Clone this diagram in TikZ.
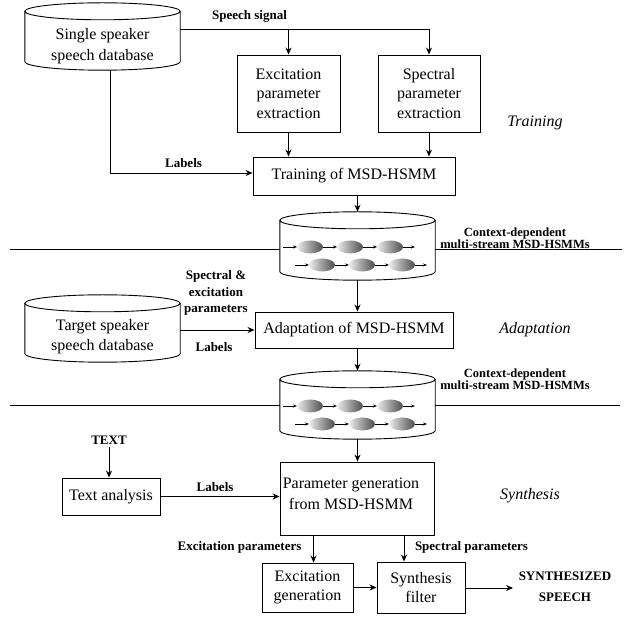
\documentclass[tikz,border=0pt]{standalone}
\usepackage{fontspec}
\setmainfont{Liberation Serif}
\usetikzlibrary{arrows.meta,calc}
\newcommand\cylout[2]{%
 \draw[ln] let \p1=(#1.north west), \p2=(#1.south east), \n1={(\x2-\x1)/2} in
   ($(#1.north)+(0,-#2)$) ellipse[x radius=\n1, y radius=#2]
   (\x1,\y1-#2) -- (\x1,\y2+#2) arc[start angle=180, end angle=360, x radius=\n1, y radius=#2] -- (\x2,\y1-#2);}
\newcommand\hmmstates[1]{%
 \foreach \cx in {-47.5,-7.5,32.5}{\shade[hmmstate] ($(#1.center)+(\cx,-1)$) ellipse[x radius=13, y radius=6.5];}
 \foreach \cx in {-35.5,4.5,44.5}{\shade[hmmstate] ($(#1.center)+(\cx,-19)$) ellipse[x radius=13, y radius=6.5];}
 \foreach \a/\b in {-74.5/-60.5,-34.5/-20.5,5.5/19.5,45.5/57.5}{\draw[sarr] ($(#1.center)+(\a,-1)$) -- ($(#1.center)+(\b,-1)$);}
 \foreach \a/\b in {-62.5/-48.5,-22.5/-8.5,17.5/31.5,57.5/69.5}{\draw[sarr] ($(#1.center)+(\a,-19)$) -- ($(#1.center)+(\b,-19)$);}
}
\begin{document}
\begin{tikzpicture}[x=1pt,y=1pt,
  ln/.style={line width=0.9pt},
  box/.style={draw, line width=0.9pt, align=center, font=\fontsize{16}{19.5}\selectfont, inner sep=0pt},
  lbl/.style={font=\bfseries\fontsize{13}{14}\selectfont, align=center, inner sep=0pt},
  ctx/.style={font=\bfseries\fontsize{12.5}{12.5}\selectfont, align=center, inner sep=0pt},
  phase/.style={font=\itshape\fontsize{16}{18}\selectfont, inner sep=0pt},
  arr/.style={line width=0.9pt, -{Stealth[length=7pt,width=6pt]}},
  sarr/.style={line width=0.6pt, -{Stealth[length=4pt,width=3pt]}},
  cyl/.style={inner sep=0pt, draw=none},
  ctext/.style={align=center, font=\fontsize{16}{21.5}\selectfont, inner sep=0pt},
  hmmstate/.style={left color=gray!15, right color=black!70}
]
\useasboundingbox (0,0) rectangle (627,-617);

% ---------- Training ----------
\node[cyl, minimum width=155pt, minimum height=67pt] (db1) at (102.5,-36.5) {};
\node[ctext] (db1t) at (102.5,-46) {Single speaker\\speech database};
\node[box, minimum width=103pt, minimum height=77pt] (exc) at (288.5,-93.5) {Excitation\\parameter\\extraction};
\node[box, minimum width=102pt, minimum height=77pt] (spec) at (429,-93.5) {Spectral\\parameter\\extraction};
\node[box, minimum width=202pt, minimum height=38pt] (train) at (354,-176) {Training of MSD-HSMM};
\node[lbl] (lsig) at (249.5,-16) {Speech signal};
\node[lbl] (llab1) at (183.5,-163) {Labels};
\node[phase] (ptrain) at (535,-123) {Training};
\node[cyl, minimum width=155pt, minimum height=68pt] (hmm1) at (357.5,-246) {};
\node[ctx] (ctx1) at (515,-238) {Context-dependent\\multi-stream MSD-HSMMs};
\coordinate (s1a) at (10,-249);
\coordinate (s1b) at (622,-249);

% ---------- Adaptation ----------
\node[box, minimum width=198pt, minimum height=36pt] (adapt) at (354,-330) {Adaptation of MSD-HSMM};
\node[cyl, minimum width=155pt, minimum height=67pt] (db2) at (102.5,-328.5) {};
\node[ctext, font=\fontsize{16}{20}\selectfont] (db2t) at (102.5,-337) {Target speaker\\speech database};
\node[lbl, font=\bfseries\fontsize{13}{16.5}\selectfont] (lpar) at (216,-293) {Spectral \&\\excitation\\parameters};
\node[lbl] (llab2) at (214,-347) {Labels};
\node[phase] (padapt) at (535,-330) {Adaptation};
\node[cyl, minimum width=155pt, minimum height=68pt] (hmm2) at (357.5,-405) {};
\node[ctx] (ctx2) at (515,-379) {Context-dependent\\multi-stream MSD-HSMMs};
\coordinate (s2a) at (10,-405);
\coordinate (s2b) at (620,-405);

% ---------- Synthesis ----------
\node[lbl] (ltext) at (109,-440) {TEXT};
\node[box, minimum width=98pt, minimum height=37pt] (textan) at (111,-496.5) {Text analysis};
\node[box, minimum width=154pt, minimum height=73pt] (param) at (357,-498.5) {};
\node[ctext, font=\fontsize{16}{21}\selectfont] (paramt) at (351,-494) {Parameter generation\\from MSD-HSMM};
\node[lbl] (llab3) at (215,-487) {Labels};
\node[phase] (psyn) at (530,-496) {Synthesis};
\node[box, minimum width=91pt, minimum height=49pt] (excgen) at (307.5,-587.5) {Excitation\\generation};
\node[box, minimum width=88pt, minimum height=51pt] (synf) at (421,-587.5) {Synthesis\\filter};
\node[lbl] (lexc) at (239.5,-547) {Excitation parameters};
\node[lbl] (lspec) at (471.5,-547) {Spectral parameters};
\node[lbl, font=\bfseries\fontsize{13}{21}\selectfont] (out) at (565,-586.5) {SYNTHESIZED\\SPEECH};
\coordinate (outp) at (513,-588);

% ---------- cylinders ----------
\cylout{db1}{8.5pt}
\cylout{db2}{8.5pt}
\cylout{hmm1}{8.5pt}
\cylout{hmm2}{8.5pt}
\hmmstates{hmm1}
\hmmstates{hmm2}

% ---------- connectors ----------
\draw[arr] ([yshift=7.5pt]db1.east) -| (exc.north);
\draw[arr] ([yshift=7.5pt]db1.east) -| (spec.north);
\draw[arr] (exc.south) -- (exc.south |- train.north);
\draw[arr] (spec.south) -- (spec.south |- train.north);
\draw[arr] ([xshift=7.5pt]db1.south) |- ([yshift=3pt]train.west);
\draw[arr] (train.south -| hmm1.north) -- (hmm1.north);
\draw[ln] (s1a) -- (s1a -| hmm1.west);
\draw[ln] (s1b -| hmm1.east) -- (s1b);
\draw[arr] (hmm1.south) -- (hmm1.south |- adapt.north);
\draw[arr] (adapt.west -| db2.east) -- (adapt.west);
\draw[arr] (adapt.south -| hmm2.north) -- (hmm2.north);
\draw[ln] (s2a) -- (s2a -| hmm2.west);
\draw[ln] (s2b -| hmm2.east) -- (s2b);
\draw[arr] (hmm2.south) -- (hmm2.south |- param.north);
\draw[arr] ([yshift=-3pt]ltext.south) -- (ltext.south |- textan.north);
\draw[arr] (textan.east) -- (textan.east -| param.west);
\draw[arr] ([xshift=-43.5pt]param.south) -- ([xshift=-43.5pt]param.south |- excgen.north);
\draw[arr] ([xshift=47pt]param.south) -- ([xshift=47pt]param.south |- synf.north);
\draw[arr] (excgen.east) -- (excgen.east -| synf.west);
\draw[arr] (outp -| synf.east) -- (outp);
\end{tikzpicture}
\end{document}
